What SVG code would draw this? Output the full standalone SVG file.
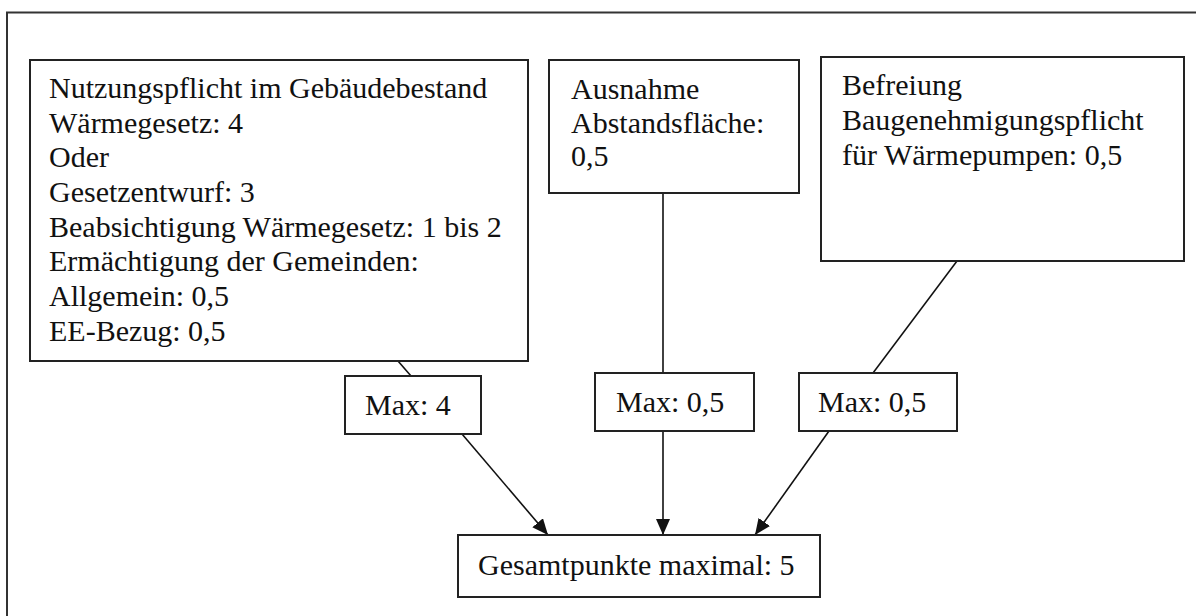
<svg xmlns="http://www.w3.org/2000/svg" width="1196" height="616" viewBox="0 0 1196 616">
<style>
.box{fill:#fff;stroke:#222;stroke-width:2}
.t{font-family:"Liberation Serif","Times New Roman",serif;font-size:30px;fill:#111}
.c{stroke:#111;stroke-width:1.6;fill:none}
</style>
<defs>
<marker id="ah" markerUnits="userSpaceOnUse" markerWidth="18" markerHeight="14" refX="16" refY="7" orient="auto">
<path d="M0,0 L16,7 L0,14 Z" fill="#111"/>
</marker>
</defs>
<rect width="1196" height="616" fill="#fff"/>
<rect id="frame" x="7" y="12.5" width="1200" height="620" fill="none" stroke="#333" stroke-width="2"/>
<g id="connectors">
<line class="c" x1="398" y1="361" x2="411" y2="376"/>
<line class="c" x1="663" y1="193" x2="663" y2="373"/>
<line class="c" x1="957" y1="261" x2="873" y2="373"/>
<line class="c" x1="462" y1="434" x2="548" y2="535" marker-end="url(#ah)"/>
<line class="c" x1="663" y1="431" x2="663" y2="535" marker-end="url(#ah)"/>
<line class="c" x1="829" y1="431" x2="755" y2="535" marker-end="url(#ah)"/>
</g>
<g id="nutzungspflicht">
<rect class="box" x="30" y="60" width="498" height="301"/>
<text class="t" x="49" y="98">Nutzungspflicht im Gebäudebestand</text>
<text class="t" x="49" y="132.7">Wärmegesetz: 4</text>
<text class="t" x="49" y="167.3">Oder</text>
<text class="t" x="49" y="202">Gesetzentwurf: 3</text>
<text class="t" x="49" y="236.7">Beabsichtigung Wärmegesetz: 1 bis 2</text>
<text class="t" x="49" y="271.3">Ermächtigung der Gemeinden:</text>
<text class="t" x="49" y="306">Allgemein: 0,5</text>
<text class="t" x="49" y="340.7">EE-Bezug: 0,5</text>
</g>
<g id="ausnahme">
<rect class="box" x="549" y="60" width="250" height="133"/>
<text class="t" x="571" y="98.5">Ausnahme</text>
<text class="t" x="571" y="132.5">Abstandsfläche:</text>
<text class="t" x="571" y="166">0,5</text>
</g>
<g id="befreiung">
<rect class="box" x="821" y="57" width="363" height="204"/>
<text class="t" x="842" y="94.5">Befreiung</text>
<text class="t" x="842" y="129.5">Baugenehmigungspflicht</text>
<text class="t" x="842" y="164.5">für Wärmepumpen: 0,5</text>
</g>
<g id="max4">
<rect class="box" x="345" y="376" width="136" height="58"/>
<text class="t" x="365" y="415">Max: 4</text>
</g>
<g id="max05a">
<rect class="box" x="595" y="373" width="159" height="58"/>
<text class="t" x="616" y="411.5">Max: 0,5</text>
</g>
<g id="max05b">
<rect class="box" x="799" y="373" width="158" height="58"/>
<text class="t" x="818" y="411.5">Max: 0,5</text>
</g>
<g id="gesamt">
<rect class="box" x="458" y="535" width="362" height="62"/>
<text class="t" x="478" y="575">Gesamtpunkte maximal: 5</text>
</g>
</svg>
